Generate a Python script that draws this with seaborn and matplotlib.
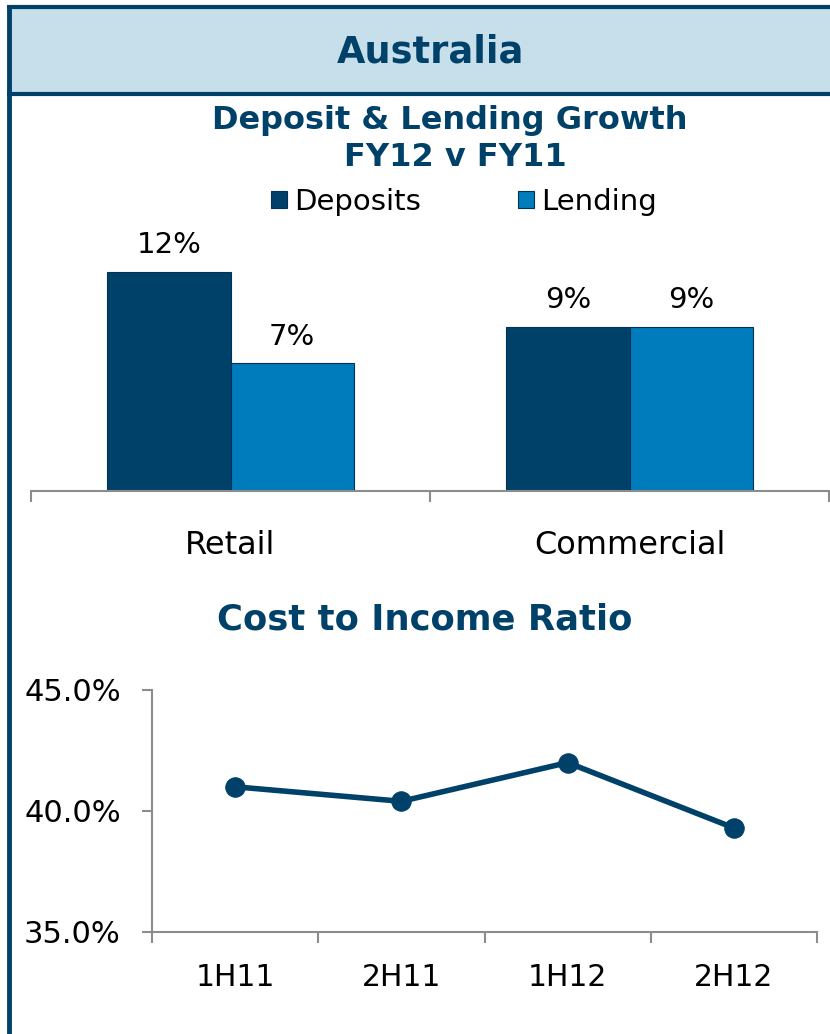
import pandas as pd
import matplotlib.pyplot as plt
import seaborn as sns
from matplotlib.patches import Rectangle
from matplotlib.lines import Line2D
from matplotlib.ticker import FuncFormatter

# data
segments = ["Retail", "Commercial"]
deposits = [12, 9]
lending = [7, 9]
halves = ["1H11", "2H11", "1H12", "2H12"]
cost_income = [41.0, 40.4, 42.0, 39.3]

NAVY = "#00416A"
BLUE = "#007BBB"
GREY = "#8C8C8C"
HEAD_BG = "#C6DFEA"

sns.set_theme(style="white")
plt.rcParams["font.family"] = ["DejaVu Sans"]
plt.rcParams["text.color"] = "black"
plt.rcParams["xtick.color"] = "black"
plt.rcParams["ytick.color"] = "black"

W, H = 830, 1034
fig = plt.figure(figsize=(W / 100, H / 100), dpi=100)


def fx(px):
    return px / W


def fy(py):
    return 1 - py / H


# frame and header band
fig.patches.append(Rectangle((fx(10), fy(94)), 1, fy(7) - fy(94), transform=fig.transFigure,
                             facecolor=HEAD_BG, edgecolor="none", zorder=0))
fig.lines.append(Line2D([fx(9), fx(9)], [0, fy(6)], transform=fig.transFigure, color=NAVY, lw=3.5,
                        solid_capstyle="butt"))
fig.lines.append(Line2D([fx(7), 1], [fy(6.5), fy(6.5)], transform=fig.transFigure, color=NAVY, lw=3,
                        solid_capstyle="butt"))
fig.lines.append(Line2D([fx(7), 1], [fy(94), fy(94)], transform=fig.transFigure, color=NAVY, lw=3,
                        solid_capstyle="butt"))
fig.text(fx(430), fy(52), "Australia", ha="center", va="center", fontsize=26.5,
         fontweight="bold", color=NAVY)

# ---------------- Deposit & Lending Growth ----------------
fig.text(fx(450), fy(121), "Deposit & Lending Growth", ha="center", va="center",
         fontsize=23, fontweight="bold", color=NAVY)
fig.text(fx(455), fy(158), "FY12 v FY11", ha="center", va="center",
         fontsize=23, fontweight="bold", color=NAVY)

df = pd.DataFrame({
    "segment": segments * 2,
    "growth": deposits + lending,
    "type": ["Deposits"] * 2 + ["Lending"] * 2,
})

ax1 = fig.add_axes([fx(31), fy(491), fx(829) - fx(31), fy(230) - fy(491)])
sns.barplot(data=df, x="segment", y="growth", hue="type", palette=[NAVY, BLUE],
            saturation=1, width=0.617, gap=0, edgecolor="#003355", linewidth=0.8, ax=ax1)
for c in ax1.containers:
    ax1.bar_label(c, fmt="%d%%", padding=9, fontsize=21, color="black")
ax1.set_xlim(-0.5, 1.5)
ax1.set_ylim(0, 14.3)
ax1.set_xlabel("")
ax1.set_ylabel("")
ax1.set_yticks([])
for s in ["top", "right", "left"]:
    ax1.spines[s].set_visible(False)
ax1.spines["bottom"].set_color(GREY)
ax1.spines["bottom"].set_linewidth(1.5)
ax1.set_xticks([0, 1])
ax1.set_xticklabels(segments, fontsize=23)
ax1.set_xticks([-0.5, 0.5, 1.5], minor=True)
ax1.tick_params(axis="x", which="major", length=0, pad=28)
ax1.tick_params(axis="x", which="minor", bottom=True, length=8, width=1.5, color=GREY)
ax1.legend(loc="center", bbox_to_anchor=(fx(464), fy(202)), bbox_transform=fig.transFigure,
           ncol=2, frameon=False, fontsize=21, handlelength=0.55, handleheight=0.55,
           handletextpad=0.25, columnspacing=3.3, borderaxespad=0)

# ---------------- Cost to Income Ratio ----------------
fig.text(fx(425), fy(620), "Cost to Income Ratio", ha="center", va="center",
         fontsize=25.5, fontweight="bold", color=NAVY)

ax2 = fig.add_axes([fx(152), fy(932), fx(817) - fx(152), fy(690) - fy(932)])
line_df = pd.DataFrame({"half": halves, "ratio": cost_income})
sns.lineplot(data=line_df, x="half", y="ratio", color=NAVY, linewidth=4,
             marker="o", markersize=14, markeredgecolor=NAVY, sort=False, ax=ax2)
ax2.set_xlim(-0.5, 3.5)
ax2.set_ylim(35, 45)
ax2.set_yticks([35, 40, 45])
ax2.yaxis.set_major_formatter(FuncFormatter(lambda v, p: f"{v:.1f}%"))
ax2.set_xlabel("")
ax2.set_ylabel("")
for s in ["top", "right"]:
    ax2.spines[s].set_visible(False)
for s in ["left", "bottom"]:
    ax2.spines[s].set_color(GREY)
    ax2.spines[s].set_linewidth(1.5)
ax2.set_xticks(range(len(halves)))
ax2.set_xticklabels(halves)
ax2.set_xticks([-0.5, 0.5, 1.5, 2.5, 3.5], minor=True)
ax2.tick_params(axis="x", which="major", length=0, pad=22, labelsize=21.5)
ax2.tick_params(axis="x", which="minor", bottom=True, length=8, width=1.5, color=GREY)
ax2.tick_params(axis="y", left=True, length=7.5, width=1.5, color=GREY, labelsize=22, pad=15)

fig.savefig("out.png", dpi=100)
